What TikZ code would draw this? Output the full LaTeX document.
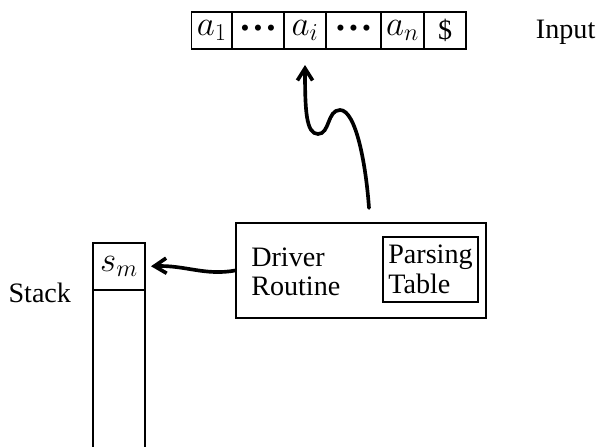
\documentclass[tikz,border=0pt]{standalone}
\usepackage{fontspec}
\setmainfont{Liberation Serif}
\usetikzlibrary{arrows.meta,positioning}

\newcommand{\bigtext}{\fontsize{20}{21}\selectfont}
\newcommand{\symtext}{\fontsize{23}{24}\selectfont}
\newcommand{\tapedots}{{\fontsize{18}{18}\selectfont\textbullet\,\textbullet\,\textbullet}}

\tikzset{
  cell/.style={draw, line width=1.1pt, minimum height=0.925cm, inner sep=0pt, outer sep=0pt, font=\symtext},
  box/.style={draw, line width=1.1pt, inner sep=0pt, font=\bigtext},
  wiggle/.style={line width=2.6pt, line cap=round, -{Straight Barb[length=3mm,width=3.8mm]}},
}

\begin{document}
\begin{tikzpicture}[x=0.025cm, y=-0.025cm]
  \useasboundingbox (0,0) rectangle (601,448);
  % input tape
  \node[cell, minimum width=1.01cm] (a1) at (211.8,30.5) {$a_1$};
  \node[cell, minimum width=1.3cm, right=0pt of a1] (d1) {\tapedots};
  \node[cell, minimum width=1.05cm, right=0pt of d1] (ai) {$a_i$};
  \node[cell, minimum width=1.375cm, right=0pt of ai] (d2) {\tapedots};
  \node[cell, minimum width=1.075cm, right=0pt of d2] (an) {$a_n$};
  \node[cell, minimum width=1.05cm, right=0pt of an, font=\bigtext] (end) {\$};
  \node[font=\bigtext, anchor=west] (input) at (531,32) {Input};
  % driver with its table
  \node[box, minimum width=6.25cm, minimum height=2.375cm] (drv) at (361,270.5) {};
  \node[font=\bigtext, align=left, anchor=west, inner sep=0pt] (rout) at (251,272) {Driver\\Routine};
  \node[box, align=left, minimum width=2.375cm, minimum height=1.625cm, inner xsep=2pt] (tbl) at (430.5,269.5) {Parsing\\Table};
  % stack
  \node[cell, minimum width=1.3cm, minimum height=1.175cm] (sm) at (119,266.5) {$s_m$};
  \draw[line width=1.1pt] (sm.south west) -- ++(0,157) coordinate (sbl);
  \draw[line width=1.1pt] (sm.south east) -- ++(0,157) coordinate (sbr);
  \node[font=\bigtext, anchor=east] (stk) at (76,293) {Stack};
  % pointers
  \coordinate (head) at (369,208);
  \draw[wiggle, shorten >=0.4cm] (head) .. controls (366,165) and (356,110) .. (340,110)
    .. controls (327,110) and (330,134) .. (318,134)
    .. controls (306,134) and (305,110) .. (ai.south);
  \draw[wiggle, shorten >=1.5mm] (drv.west) .. controls (205,276) and (185,265) .. (sm.east);
\end{tikzpicture}
\end{document}
